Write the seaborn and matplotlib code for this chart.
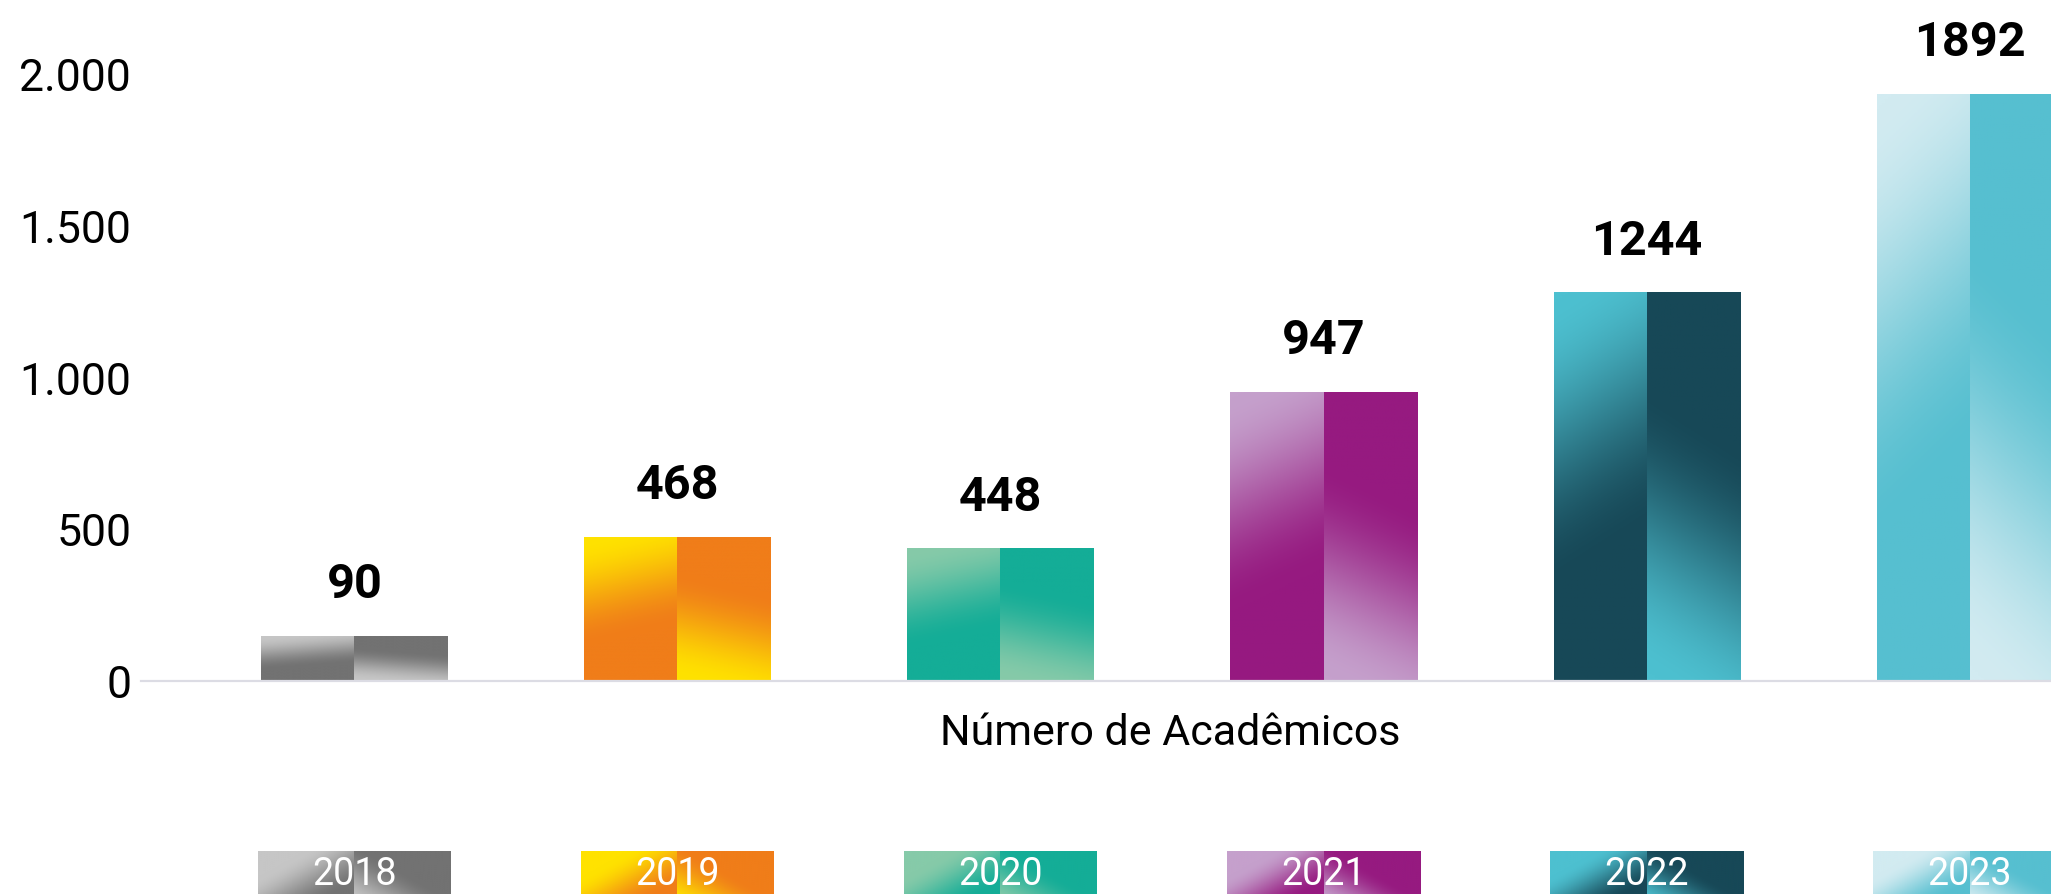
import numpy as np
import matplotlib.pyplot as plt
import seaborn as sns
from matplotlib.colors import to_rgb

# dados do gráfico
anos = ["2018", "2019", "2020", "2021", "2022", "2023"]
valores = [90, 468, 448, 947, 1244, 1892]          # rótulos sobre as barras
alturas = [148, 474, 436, 952, 1280, 1935]         # altura desenhada das barras
cor_clara = ["#c6c6c6", "#ffe200", "#86caa9", "#c5a0cc", "#4dc0d0", "#d2ebf1"]
cor_escura = ["#727272", "#f07d19", "#14ad97", "#961a80", "#174857", "#56bfd0"]
yticks = [0, 500, 1000, 1500, 2000]
ytick_labels = ["0", "500", "1.000", "1.500", "2.000"]
titulo_x = "Número de Acadêmicos"

sns.set_theme(style="white")
plt.rcParams["font.family"] = ["Roboto", "DejaVu Sans"]


def gradiente(c_topo, c_base, ini, fim, incl=0.1, n=300, m=30):
    # transição de c_topo para c_base entre as frações ini e fim da altura
    a = np.array(to_rgb(c_topo))
    b = np.array(to_rgb(c_base))
    yy, xx = np.mgrid[0:1:n * 1j, 0:1:m * 1j]
    yy = yy + (xx - 0.5 if incl > 0 else 0.5 - xx) * abs(incl)
    t = np.clip((yy - ini) / (fim - ini), 0, 1)
    t = t * t * (3 - 2 * t)
    return a + (b - a) * t[..., None]


fig = plt.figure(figsize=(20.51, 8.95), dpi=100)
ax = fig.add_axes([0.0687, 0.2385, 0.9313, 0.7117])

sns.barplot(x=anos, y=alturas, width=0.576, color="white", ax=ax)

for i, p in enumerate(ax.patches):
    x0, w, h = p.get_x(), p.get_width(), p.get_height()
    p.set_alpha(0)
    # metade esquerda: clara em cima -> escura embaixo
    ax.imshow(gradiente(cor_clara[i], cor_escura[i], -0.05, 0.68, 0.15),
              extent=[x0, x0 + w / 2, 0, h], aspect="auto", zorder=2)
    # metade direita: escura em cima -> clara embaixo
    ax.imshow(gradiente(cor_escura[i], cor_clara[i], 0.32, 1.05, -0.15),
              extent=[x0 + w / 2, x0 + w, 0, h], aspect="auto", zorder=2)
    ax.annotate(str(valores[i]), xy=(i, h), xytext=(0, 37),
                textcoords="offset points", ha="center", va="center",
                fontsize=35, fontweight="bold", color="black",
                annotation_clip=False)

    # caixas com os anos embaixo
    bw = 0.6
    im = ax.imshow(gradiente(cor_clara[i], cor_escura[i], 0.0, 0.9, 0.8, m=60),
                   extent=[i - bw / 2, i, -780, -565], aspect="auto", zorder=2)
    im.set_clip_on(False)
    im2 = ax.imshow(gradiente(cor_escura[i], cor_clara[i], 0.3, 1.2, -0.8, m=60),
                    extent=[i, i + bw / 2, -780, -565], aspect="auto", zorder=2)
    im2.set_clip_on(False)
    ax.text(i, -636, anos[i], ha="center", va="center", fontsize=27,
            color="white", zorder=3, clip_on=False)

ax.set_xlim(-0.661, 5.252)
ax.set_ylim(0, 2100)

ax.set_yticks(yticks, ytick_labels)
ax.tick_params(axis="y", length=0, pad=7, labelsize=32, labelcolor="black")
ax.tick_params(axis="x", length=0, labelbottom=False)

ax.set_xlabel(titulo_x, fontsize=31, color="black", va="center")
ax.xaxis.set_label_coords(0.539, -0.082)
ax.set_ylabel("")

for s in ["top", "right", "left"]:
    ax.spines[s].set_visible(False)
ax.spines["bottom"].set_color("#dcdce4")
ax.spines["bottom"].set_linewidth(1.6)

fig.savefig("out.png", dpi=100)
